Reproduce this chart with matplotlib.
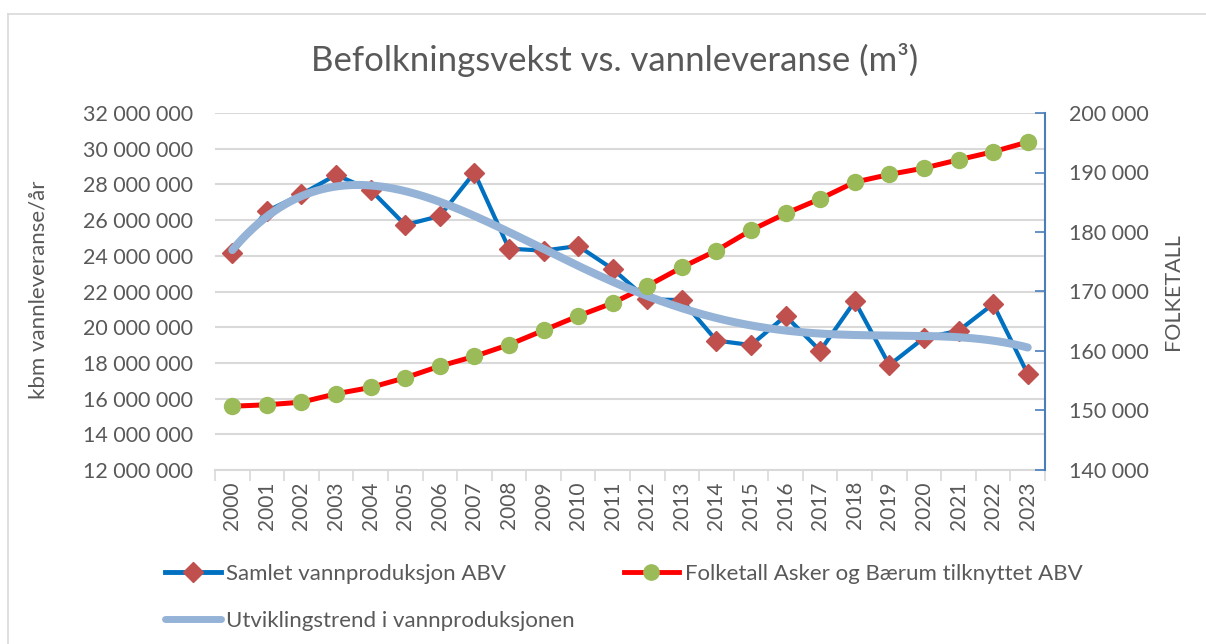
import numpy as np
import matplotlib
matplotlib.use("Agg")
import matplotlib.pyplot as plt
from matplotlib.lines import Line2D
from matplotlib.ticker import FuncFormatter, MultipleLocator, FixedLocator

plt.rcParams['font.family'] = ['Lato', 'DejaVu Sans']

years = [str(y) for y in range(2000, 2024)]

# Total water production (m3 per year)
vannproduksjon = [24.17e6, 26.5e6, 27.45e6, 28.53e6, 27.69e6, 25.73e6, 26.23e6, 28.66e6,
                  24.40e6, 24.29e6, 24.55e6, 23.26e6, 21.56e6, 21.52e6, 19.25e6, 19.00e6,
                  20.63e6, 18.68e6, 21.45e6, 17.88e6, 19.40e6, 19.80e6, 21.30e6, 17.38e6]

# Population in Asker and Bærum served by ABV
folketall = [150720, 150960, 151400, 152810, 153870, 155500, 157460, 159090,
             161060, 163470, 165880, 168070, 170930, 174070, 176880, 180300,
             183110, 185580, 188380, 189670, 190740, 192140, 193490, 195120]

TREND_ORDER = 4

TXT = '#595959'
GRID = '#D9D9D9'

fig = plt.figure(figsize=(12.06, 6.44), dpi=100)
W, H = 1206, 644

# chart frame
fig.add_artist(Line2D([8 / W, 8 / W], [0, 1 - 14 / H], color=GRID, lw=1.2))
fig.add_artist(Line2D([8 / W, 1], [1 - 14 / H, 1 - 14 / H], color=GRID, lw=1.2))

left, right, top, bottom = 215 / W, 1045 / W, 113 / H, 470 / H
ax1 = fig.add_axes([left, 1 - bottom, right - left, bottom - top])
ax2 = ax1.twinx()

x = np.arange(len(years))

# trendline of the production series (polynomial, like a spreadsheet trendline)
xs = np.linspace(0, len(years) - 1, 300)
coef = np.polyfit(x + 1, np.array(vannproduksjon), TREND_ORDER)
trend = np.polyval(coef, xs + 1)

ax1.plot(x, vannproduksjon, color='#0070C0', lw=3.0, marker='D', ms=10,
         mfc='#C0504D', mec='#C0504D', zorder=3, solid_joinstyle='miter')

ax2.plot(x, folketall, color='#FF0000', lw=3.6, zorder=2)
ax2.plot(xs, trend, color='#95B3D7', lw=5.8, solid_capstyle='round',
         transform=ax1.transData, zorder=3)
ax2.plot(x, folketall, ls='none', marker='o', ms=11.5, mfc='#9BBB59',
         mec='#9BBB59', zorder=4)

ax1.set_xlim(-0.5, len(years) - 0.5)
ax1.set_ylim(12e6, 32e6)
ax2.set_ylim(140000, 200000)

ax1.yaxis.set_major_locator(MultipleLocator(2e6))
ax2.yaxis.set_major_locator(MultipleLocator(10000))
fmt = FuncFormatter(lambda v, p: f"{int(round(v)):,}".replace(',', ' '))
ax1.yaxis.set_major_formatter(fmt)
ax2.yaxis.set_major_formatter(fmt)

ax1.grid(axis='y', color=GRID, lw=1.5)
ax1.set_axisbelow(True)

ax1.set_xticks(x)
ax1.set_xticklabels(years, rotation=90, fontsize=15, color=TXT)
ax1.xaxis.set_minor_locator(FixedLocator(np.arange(-0.5, len(years), 1.0)))
ax1.tick_params(axis='x', which='major', length=0, pad=8)
ax1.tick_params(axis='x', which='minor', length=8, color=GRID, width=1.2)
ax1.tick_params(axis='y', length=0, labelsize=15.5, labelcolor=TXT, pad=16)
ax2.tick_params(axis='y', direction='in', length=7, color='#4A7EBB', width=1.2,
                labelsize=15.5, labelcolor=TXT, pad=17)

for s in ['top', 'left', 'right']:
    ax1.spines[s].set_visible(False)
ax1.spines['bottom'].set_color(GRID)
ax1.spines['bottom'].set_linewidth(1.5)
for s in ['top', 'left', 'bottom']:
    ax2.spines[s].set_visible(False)
ax2.spines['right'].set_color('#4A7EBB')
ax2.spines['right'].set_linewidth(1.5)

ax1.set_ylabel('kbm vannleveranse/år', fontsize=16, color=TXT)
ax1.yaxis.set_label_coords((49 - 215) / 830, 0.506)
ax2.set_ylabel('FOLKETALL', fontsize=15.5, color=TXT)
ax2.yaxis.set_label_coords((1163 - 215) / 830, 0.5)

fig.text(615 / W, 1 - 60 / H, 'Befolkningsvekst vs. vannleveranse (m³)',
         ha='center', va='center', fontsize=25, color=TXT)

h1 = Line2D([], [], color='#0070C0', lw=3.5, marker='D', ms=10,
            mfc='#C0504D', mec='#C0504D')
h2 = Line2D([], [], color='#FF0000', lw=3.5, marker='o', ms=11,
            mfc='#9BBB59', mec='#9BBB59')
h3 = Line2D([], [], color='#95B3D7', lw=5, solid_capstyle='round')
fig.legend([h1, h3, h2],
           ['Samlet vannproduksjon ABV', 'Utviklingstrend i vannproduksjonen',
            'Folketall Asker og Bærum tilknyttet ABV'],
           ncol=2, loc='upper left', bbox_to_anchor=(165 / W, 1 - 564 / H),
           frameon=False, fontsize=16, labelcolor=TXT, handlelength=2.5,
           handletextpad=0.25, columnspacing=2.2, labelspacing=1.2,
           borderaxespad=0, borderpad=0)

fig.savefig('out.png', dpi=100)
